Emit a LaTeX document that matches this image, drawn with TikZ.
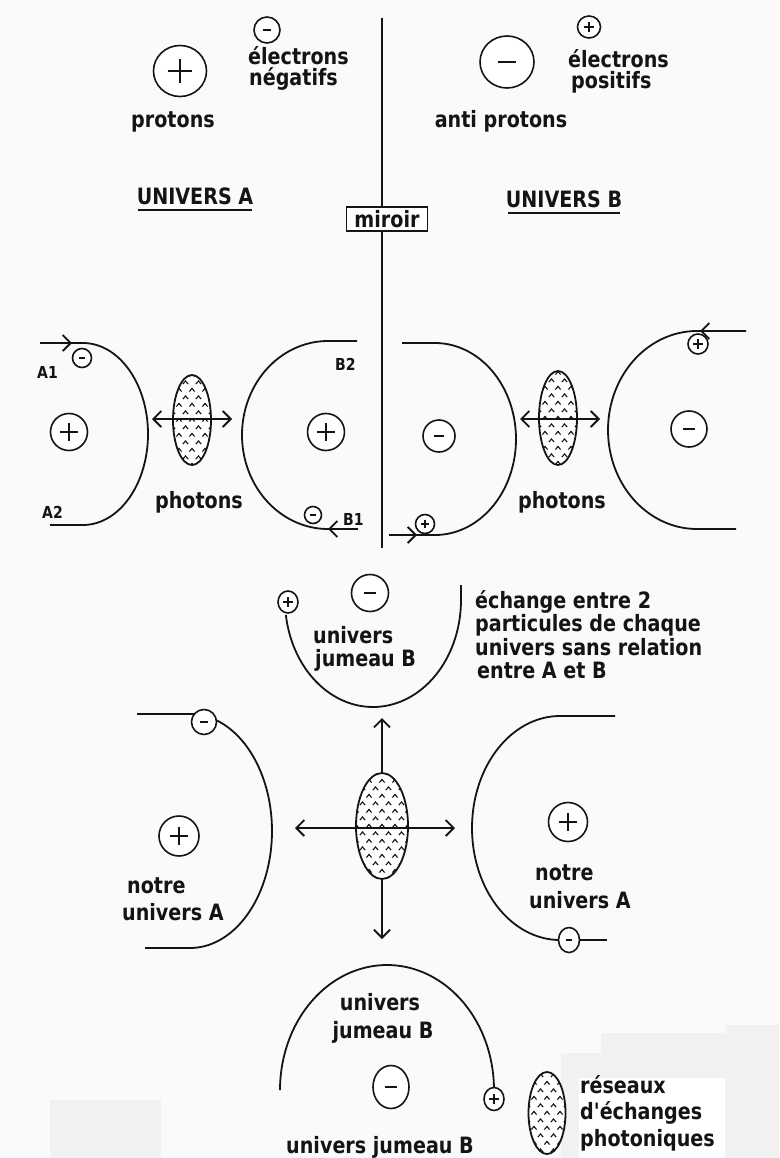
\documentclass[tikz,border=0pt]{standalone}
\usepackage{fontspec}
\setmainfont{DejaVu Sans}[FakeStretch=0.85, Ligatures=TeXOff]
\usetikzlibrary{arrows.meta,shapes.geometric,calc}
\definecolor{bgc}{RGB}{250,250,250}
\definecolor{patchc}{RGB}{241,241,241}
\definecolor{ink}{RGB}{20,20,20}
\newcommand\bigfont{\bfseries\fontsize{22.5}{24}\selectfont}
\newcommand\lblfont{\bfseries\fontsize{16.5}{18}\selectfont}
\tikzset{
  ln/.style={line width=1.8pt, draw=ink},
  tipend/.style={-{Straight Barb[length=8pt,width=16pt]}},
  dbl/.style={{Straight Barb[length=8pt,width=16pt]}-{Straight Barb[length=8pt,width=16pt]}},
  txt/.style={font=\bigfont, text=ink, inner sep=0pt},
  lbl/.style={font=\lblfont, text=ink, inner sep=0pt},
  part/.style={ellipse, draw=ink, line width=1.6pt, fill=white, inner sep=0pt, outer sep=0pt},
  pplus/.style={part, path picture={
    \draw[line width=1.3pt,ink] ($(path picture bounding box.west)!0.27!(path picture bounding box.east)$) -- ($(path picture bounding box.west)!0.73!(path picture bounding box.east)$);
    \draw[line width=1.3pt,ink] ($(path picture bounding box.north)!0.27!(path picture bounding box.south)$) -- ($(path picture bounding box.north)!0.73!(path picture bounding box.south)$);}},
  pminus/.style={part, path picture={
    \draw[line width=1.8pt,ink] ($(path picture bounding box.west)!0.34!(path picture bounding box.east)$) -- ($(path picture bounding box.west)!0.66!(path picture bounding box.east)$);}},
  photon/.style={ellipse, draw=ink, line width=1.8pt, fill=white, inner sep=0pt, outer sep=0pt,
    path picture={
      \foreach \pr in {-9,...,9}{\foreach \pc in {-3,...,3}{
        \pgfmathsetmacro\xx{\pc*13+mod(\pr+20,2)*6.5}
        \pgfmathsetmacro\yy{\pr*7.5}
        \draw[line width=1.1pt, ink, shift={(path picture bounding box.center)}]
          (\xx-2.6,\yy+1.6) -- ++(2.6,-3.2) -- ++(2.6,3.2);
      }}}},
}
\begin{document}
\begin{tikzpicture}[x=1pt,y=-1pt]
\useasboundingbox (0,0) rectangle (779,1158);
% background and scan patches
\fill[bgc] (0,0) rectangle (779,1158);
\fill[patchc] (50,1100) rectangle (161,1158);
\fill[patchc] (561,1053) rectangle (779,1158);
\fill[patchc] (601,1033) rectangle (779,1158);
\fill[patchc] (725,1025) rectangle (779,1158);
\fill[white] (579,1078) rectangle (725,1158);

% ---------- mirror line ----------
\coordinate (mtop) at (382,18);
\coordinate (mbot) at (382,548);
\draw[ln] (mtop) -- (mbot);

% ---------- universe arcs (middle) ----------
\draw[ln] (40,343) -- (83,343) -- plot[domain=-90:90,samples=60,smooth] ({83+65*cos(\x)},{434+91*sin(\x)}) -- (50,525);
\draw[ln,tipend] (40,343) -- (72,343);

\draw[ln] (358,529) -- (328,529) -- plot[domain=90:270,samples=60,smooth] ({328+86*cos(\x)},{435+94*sin(\x)}) -- (357,341);
\draw[ln,tipend] (358,529) -- (328,529);

\draw[ln] (402,343) -- (435,343) -- plot[domain=-90:90,samples=60,smooth] ({435+81*cos(\x)},{439+96*sin(\x)}) -- (389,535);
\draw[ln,tipend] (389,535) -- (417,535);

\draw[ln] (736,529) -- (697,529) -- plot[domain=90:270,samples=60,smooth] ({697+89*cos(\x)},{430+99*sin(\x)}) -- (746,331);
\draw[ln,tipend] (746,331) -- (700,331);

% ---------- lower arcs ----------
\draw[ln] (461,585) -- (461,600) -- plot[domain=0:172,samples=60,smooth] ({373+88*cos(\x)},{600+107*sin(\x)});
\draw[ln] (137,714) -- (190,714) -- plot[domain=-90:90,samples=60,smooth] ({190+82*cos(\x)},{831+117*sin(\x)}) -- (145,948);
\draw[ln] (560,940) -- plot[domain=90:270,samples=60,smooth] ({560+88*cos(\x)},{828+112*sin(\x)}) -- (615,716);
\draw[ln] plot[domain=180:360,samples=60,smooth] ({387+107*cos(\x)},{1090+125*sin(\x)});

% ---------- top texts ----------
\node[txt, anchor=base west] (tEl1) at (248,65) {électrons};
\node[txt, anchor=base west] (tNeg) at (249,86) {négatifs};
\node[txt, anchor=base] (tProt) at (173,128) {protons};
\node[txt, anchor=base] (tUA) at (195,205) {UNIVERS A};
\draw[ln] (138,210) -- (252,210);
\node[txt, anchor=base west] (tEl2) at (568,68) {électrons};
\node[txt, anchor=base west] (tPos) at (571,89) {positifs};
\node[txt, anchor=base] (tAprot) at (501,128) {anti protons};
\node[txt, anchor=base] (tUB) at (564,208) {UNIVERS B};
\draw[ln] (508,213) -- (620,213);
\node[txt, draw=ink, line width=1.9pt, fill=white, minimum width=81pt, minimum height=24pt] (miroir) at (387,219) {miroir};

% ---------- top particles ----------
\node[pplus, minimum width=53pt, minimum height=51pt] (pA) at (180,71) {};
\node[pminus, minimum width=26pt, minimum height=26pt] (eA) at (267,30) {};
\node[pminus, minimum width=54pt, minimum height=52pt] (pB) at (507,62) {};
\node[pplus, minimum width=23pt, minimum height=22pt] (eB) at (589,27) {};

% ---------- middle particles ----------
\node[pminus, minimum width=19pt, minimum height=19pt] (eA1) at (82,358) {};
\node[pplus, minimum width=37pt, minimum height=37pt] (pA1) at (69,432) {};
\node[pplus, minimum width=37pt, minimum height=37pt] (pB2) at (326,432) {};
\node[pminus, minimum width=17pt, minimum height=17pt] (eB1) at (313,515) {};
\node[pplus, minimum width=19pt, minimum height=19pt] (eBL) at (425,524) {};
\node[pminus, minimum width=32pt, minimum height=32pt] (pBL) at (439,436) {};
\node[pplus, minimum width=20pt, minimum height=20pt] (eBR) at (698,344) {};
\node[pminus, minimum width=36pt, minimum height=36pt] (pBR) at (689,429) {};

\node[lbl, anchor=base west] (lA1) at (37,378) {A1};
\node[lbl, anchor=base west] (lA2) at (42,518) {A2};
\node[lbl, anchor=base west] (lB2) at (335,370) {B2};
\node[lbl, anchor=base west] (lB1) at (343,525) {B1};

% ---------- middle photons ----------
\node[photon, minimum width=38pt, minimum height=90pt] (gL) at (192,420) {};
\node[photon, minimum width=38pt, minimum height=94pt] (gR) at (558,418) {};
\coordinate (gLw) at (152,419); \coordinate (gLe) at (232,419);
\coordinate (gRw) at (520,419); \coordinate (gRe) at (600,419);
\draw[ln,dbl] (gLw) -- (gLe);
\draw[ln,dbl] (gRw) -- (gRe);
\node[txt, anchor=base] (tPhL) at (199,508) {photons};
\node[txt, anchor=base] (tPhR) at (562,508) {photons};

% ---------- lower part ----------
\node[pplus, minimum width=20pt, minimum height=22pt] (eJ1) at (288,602) {};
\node[pminus, minimum width=37pt, minimum height=37pt] (pJ1) at (370,593) {};
\node[txt, anchor=base west] (tJ1a) at (313,643) {univers};
\node[txt, anchor=base west] (tJ1b) at (315,666) {jumeau B};

\node[txt, anchor=base west] (tEx1) at (475,608) {échange entre 2};
\node[txt, anchor=base west] (tEx2) at (475,631) {particules de chaque};
\node[txt, anchor=base west] (tEx3) at (475,655) {univers sans relation};
\node[txt, anchor=base west] (tEx4) at (477,678) {entre A et B};

\node[pminus, minimum width=25pt, minimum height=25pt] (eAL) at (204,722) {};
\node[pplus, minimum width=40pt, minimum height=40pt] (pAL) at (179,836) {};
\node[txt, anchor=base west] (tNL1) at (127,893) {notre};
\node[txt, anchor=base west] (tNL2) at (122,920) {univers A};

\node[pplus, minimum width=39pt, minimum height=39pt] (pAR) at (568,822) {};
\node[pminus, minimum width=21pt, minimum height=25pt] (eAR) at (569,940) {};
\coordinate (eARend) at (607,940);
\draw[ln] (eAR) -- (eARend);
\node[txt, anchor=base west] (tNR1) at (535,880) {notre};
\node[txt, anchor=base west] (tNR2) at (529,908) {univers A};

\node[photon, minimum width=52pt, minimum height=106pt] (gC) at (382,826) {};
\coordinate (gCw) at (295,828); \coordinate (gCe) at (455,828);
\coordinate (gCup) at (382,718); \coordinate (gCdn) at (382,939);
\draw[ln,dbl] (gCw) -- (gCe);
\draw[ln,tipend] (gC.north) -- (gCup);
\draw[ln,tipend] (gC.south) -- (gCdn);

\node[txt, anchor=base] (tJ2a) at (380,1010) {univers};
\node[txt, anchor=base] (tJ2b) at (383,1038) {jumeau B};
\node[pminus, minimum width=36pt, minimum height=43pt] (pJ2) at (391,1087) {};
\node[pplus, minimum width=20pt, minimum height=23pt] (eJ2) at (494,1099) {};
\node[txt, anchor=base] (tJ2c) at (380,1153) {univers jumeau B};

% ---------- legend ----------
\node[photon, minimum width=37pt, minimum height=82pt] (gLeg) at (547,1113) {};
\node[txt, anchor=base west] (tLg1) at (580,1093) {réseaux};
\node[txt, anchor=base west] (tLg2) at (580,1119) {d'échanges};
\node[txt, anchor=base west] (tLg3) at (580,1146) {photoniques};
\end{tikzpicture}
\end{document}
